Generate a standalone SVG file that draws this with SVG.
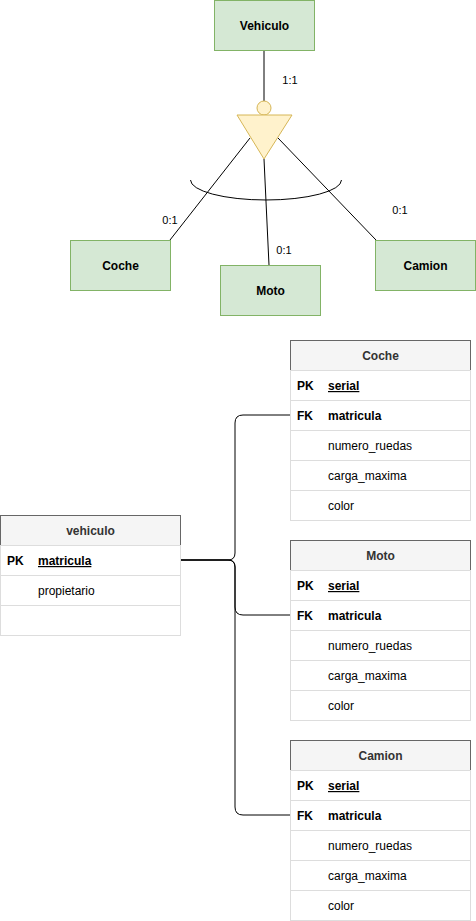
<svg xmlns="http://www.w3.org/2000/svg" width="476" height="921" viewBox="0 0 476 921">
<style>
text{font-family:"Liberation Sans",Arial,Helvetica,sans-serif;}
.ent{fill:#d5e8d4;stroke:#82b366;stroke-width:1;}
.ename{font-size:12px;font-weight:bold;fill:#000;text-anchor:middle;}
.lbl{font-size:11px;fill:#000;text-anchor:middle;}
.ln{stroke:#000;stroke-width:1;fill:none;}
.hdr{fill:#f5f5f5;stroke:#666;stroke-width:1;}
.row{fill:#fff;stroke:#ddd;stroke-width:1;}
.htxt{font-size:12px;font-weight:bold;fill:#333;text-anchor:middle;}
.key{font-size:12px;font-weight:bold;fill:#000;}
.fld{font-size:12px;fill:#000;}
.pk{font-size:12px;font-weight:bold;fill:#000;text-decoration:underline;}
</style>
<g id="connectors">
<line class="ln" x1="264" y1="50" x2="264" y2="101"/>
<line class="ln" x1="250" y1="138" x2="170" y2="240"/>
<line class="ln" x1="264" y1="159" x2="269" y2="265"/>
<line class="ln" x1="278" y1="138" x2="376" y2="240"/>
<path class="ln" d="M190.5,180 A75.5,20 0 0 0 341.5,180"/>
<path class="ln" d="M180,560 H228 Q235,560 235,553 V423 Q235,415 243,415 H290"/>
<path class="ln" d="M180,560 H228 Q235,560 235,567 V607 Q235,615 243,615 H290"/>
<path class="ln" d="M180,560 H228 Q235,560 235,567 V807 Q235,815 243,815 H290"/>
<text class="lbl" x="290" y="84">1:1</text>
<text class="lbl" x="170" y="224">0:1</text>
<text class="lbl" x="284" y="254">0:1</text>
<text class="lbl" x="400" y="214">0:1</text>
</g>
<g id="Vehiculo"><rect class="ent" x="214.5" y="0.5" width="100" height="50"/><text class="ename" x="264.5" y="29.5">Vehiculo</text></g>
<g id="isa">
<circle cx="264" cy="108" r="7" fill="#fff2cc" stroke="#d6b656"/>
<polygon points="237,115 292,115 264,159" fill="#fff2cc" stroke="#d6b656"/>
</g>
<g id="Coche"><rect class="ent" x="70.5" y="240.5" width="100" height="50"/><text class="ename" x="120.5" y="269.5">Coche</text></g>
<g id="Moto"><rect class="ent" x="220.5" y="265.5" width="100" height="50"/><text class="ename" x="270.5" y="294.5">Moto</text></g>
<g id="Camion"><rect class="ent" x="375.5" y="240.5" width="100" height="50"/><text class="ename" x="425.5" y="269.5">Camion</text></g>

<g id="table-vehiculo">
<rect class="hdr" x="0.5" y="515.5" width="180" height="30"/>
<rect class="row" x="0.5" y="545.5" width="180" height="30"/>
<rect class="row" x="0.5" y="575.5" width="180" height="30"/>
<rect class="row" x="0.5" y="605.5" width="180" height="30"/>
<text class="htxt" x="90.5" y="535">vehiculo</text>
<text class="key" x="7" y="565">PK</text><text class="pk" x="38" y="565">matricula</text>
<text class="fld" x="38" y="595">propietario</text>
</g>

<g id="table-coche">
<rect class="hdr" x="290.5" y="340.5" width="180" height="30"/>
<rect class="row" x="290.5" y="370.5" width="180" height="30"/>
<rect class="row" x="290.5" y="400.5" width="180" height="30"/>
<rect class="row" x="290.5" y="430.5" width="180" height="30"/>
<rect class="row" x="290.5" y="460.5" width="180" height="30"/>
<rect class="row" x="290.5" y="490.5" width="180" height="30"/>
<text class="htxt" x="380.5" y="360">Coche</text>
<text class="key" x="297" y="390">PK</text><text class="pk" x="328" y="390">serial</text>
<text class="key" x="297" y="420">FK</text><text class="key" x="328" y="420">matricula</text>
<text class="fld" x="328" y="450">numero_ruedas</text>
<text class="fld" x="328" y="480">carga_maxima</text>
<text class="fld" x="328" y="510">color</text>
</g>

<g id="table-moto">
<rect class="hdr" x="290.5" y="540.5" width="180" height="30"/>
<rect class="row" x="290.5" y="570.5" width="180" height="30"/>
<rect class="row" x="290.5" y="600.5" width="180" height="30"/>
<rect class="row" x="290.5" y="630.5" width="180" height="30"/>
<rect class="row" x="290.5" y="660.5" width="180" height="30"/>
<rect class="row" x="290.5" y="690.5" width="180" height="30"/>
<text class="htxt" x="380.5" y="560">Moto</text>
<text class="key" x="297" y="590">PK</text><text class="pk" x="328" y="590">serial</text>
<text class="key" x="297" y="620">FK</text><text class="key" x="328" y="620">matricula</text>
<text class="fld" x="328" y="650">numero_ruedas</text>
<text class="fld" x="328" y="680">carga_maxima</text>
<text class="fld" x="328" y="710">color</text>
</g>

<g id="table-camion">
<rect class="hdr" x="290.5" y="740.5" width="180" height="30"/>
<rect class="row" x="290.5" y="770.5" width="180" height="30"/>
<rect class="row" x="290.5" y="800.5" width="180" height="30"/>
<rect class="row" x="290.5" y="830.5" width="180" height="30"/>
<rect class="row" x="290.5" y="860.5" width="180" height="30"/>
<rect class="row" x="290.5" y="890.5" width="180" height="30"/>
<text class="htxt" x="380.5" y="760">Camion</text>
<text class="key" x="297" y="790">PK</text><text class="pk" x="328" y="790">serial</text>
<text class="key" x="297" y="820">FK</text><text class="key" x="328" y="820">matricula</text>
<text class="fld" x="328" y="850">numero_ruedas</text>
<text class="fld" x="328" y="880">carga_maxima</text>
<text class="fld" x="328" y="910">color</text>
</g>
</svg>
